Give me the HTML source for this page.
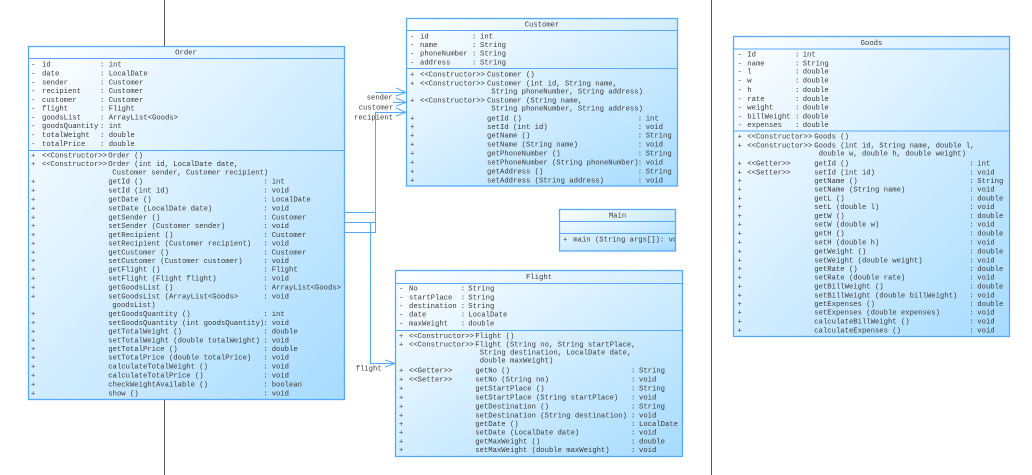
<!DOCTYPE html>
<html><head><meta charset="utf-8"><style>
html,body{margin:0;padding:0;background:#fff;width:1032px;height:475px;overflow:hidden}
svg{display:block}
text{font-family:"Liberation Mono",monospace;font-size:7.22px;fill:#3a3a3a;white-space:pre}
.b{fill:url(#g);stroke:#55aaff;stroke-width:1.3}
.l{stroke:#55aaff;stroke-width:1;fill:none}
.c{text-anchor:middle}
</style></head><body>
<svg width="1032" height="475" viewBox="0 0 1032 475" xmlns="http://www.w3.org/2000/svg">
<defs><linearGradient id="g" x1="0" y1="0" x2="1" y2="1"><stop offset="0" stop-color="#ffffff"/><stop offset="1" stop-color="#a6dbff"/></linearGradient></defs>
<line x1="164.5" y1="0" x2="164.5" y2="46" stroke="#555"/>
<line x1="164.5" y1="399" x2="164.5" y2="475" stroke="#555"/>
<line x1="711.5" y1="0" x2="711.5" y2="475" stroke="#555"/>

<!-- connectors -->
<path class="l" d="M344 212.5H375.5V232.5H344M344 222.5H375.5M375.5 232V112.5H406M375.5 92.5H406M393 102.5H406M370.5 222.5V363.5H395"/>
<path class="l" d="M396 88L406 92.5L396 96M396 98L406 102.5L396 106M396 108L406 112.5L396 116M385 360L395 363.5L385 367"/>
<text x="366.7" y="99.5">sender</text>
<text x="358.7" y="109.5">customer</text>
<text x="354" y="119.5">recipient</text>
<text x="355.7" y="370.5">flight</text>

<!-- Order -->
<rect class="b" x="28.5" y="46.5" width="316" height="353"/>
<path class="l" d="M28.5 58.5H344.5M28.5 150.5H344.5"/>
<text class="c" x="186" y="54.5">Order</text>
<text x="31" y="66.6">-</text><text x="42" y="66.6">id</text><text x="100" y="66.6">:</text><text x="108.7" y="66.6">int</text>
<text x="31" y="75.3">-</text><text x="42" y="75.3">date</text><text x="100" y="75.3">:</text><text x="108.7" y="75.3">LocalDate</text>
<text x="31" y="84.3">-</text><text x="42" y="84.3">sender</text><text x="100" y="84.3">:</text><text x="108.7" y="84.3">Customer</text>
<text x="31" y="92.8">-</text><text x="42" y="92.8">recipient</text><text x="100" y="92.8">:</text><text x="108.7" y="92.8">Customer</text>
<text x="31" y="101.8">-</text><text x="42" y="101.8">customer</text><text x="100" y="101.8">:</text><text x="108.7" y="101.8">Customer</text>
<text x="31" y="110.3">-</text><text x="42" y="110.3">flight</text><text x="100" y="110.3">:</text><text x="108.7" y="110.3">Flight</text>
<text x="31" y="119.3">-</text><text x="42" y="119.3">goodsList</text><text x="100" y="119.3">:</text><text x="108.7" y="119.3">ArrayList&lt;Goods&gt;</text>
<text x="31" y="127.8">-</text><text x="42" y="127.8">goodsQuantity</text><text x="100" y="127.8">:</text><text x="108.7" y="127.8">int</text>
<text x="31" y="136.8">-</text><text x="42" y="136.8">totalWeight</text><text x="100" y="136.8">:</text><text x="108.7" y="136.8">double</text>
<text x="31" y="145.8">-</text><text x="42" y="145.8">totalPrice</text><text x="100" y="145.8">:</text><text x="108.7" y="145.8">double</text>

<text x="31" y="157.6">+</text><text x="42" y="157.6">&lt;&lt;Constructor&gt;&gt;</text><text x="108.3" y="157.6">Order ()</text>
<text x="31" y="166.1">+</text><text x="42" y="166.1">&lt;&lt;Constructor&gt;&gt;</text><text x="108.3" y="166.1">Order (int id, LocalDate date,</text>
<text x="112.3" y="174.3">Customer sender, Customer recipient)</text>
<text x="31" y="183.3">+</text><text x="108.3" y="183.3">getId ()</text><text x="263.3" y="183.3">:</text><text x="271.7" y="183.3">int</text>
<text x="31" y="192.3">+</text><text x="108.3" y="192.3">setId (int id)</text><text x="263.3" y="192.3">:</text><text x="271.7" y="192.3">void</text>
<text x="31" y="201.6">+</text><text x="108.3" y="201.6">getDate ()</text><text x="263.3" y="201.6">:</text><text x="271.7" y="201.6">LocalDate</text>
<text x="31" y="210.3">+</text><text x="108.3" y="210.3">setDate (LocalDate date)</text><text x="263.3" y="210.3">:</text><text x="271.7" y="210.3">void</text>
<text x="31" y="219.3">+</text><text x="108.3" y="219.3">getSender ()</text><text x="263.3" y="219.3">:</text><text x="271.7" y="219.3">Customer</text>
<text x="31" y="228">+</text><text x="108.3" y="228">setSender (Customer sender)</text><text x="263.3" y="228">:</text><text x="271.7" y="228">void</text>
<text x="31" y="237">+</text><text x="108.3" y="237">getRecipient ()</text><text x="263.3" y="237">:</text><text x="271.7" y="237">Customer</text>
<text x="31" y="245.6">+</text><text x="108.3" y="245.6">setRecipient (Customer recipient)</text><text x="263.3" y="245.6">:</text><text x="271.7" y="245.6">void</text>
<text x="31" y="254.3">+</text><text x="108.3" y="254.3">getCustomer ()</text><text x="263.3" y="254.3">:</text><text x="271.7" y="254.3">Customer</text>
<text x="31" y="263">+</text><text x="108.3" y="263">setCustomer (Customer customer)</text><text x="263.3" y="263">:</text><text x="271.7" y="263">void</text>
<text x="31" y="271.6">+</text><text x="108.3" y="271.6">getFlight ()</text><text x="263.3" y="271.6">:</text><text x="271.7" y="271.6">Flight</text>
<text x="31" y="280.3">+</text><text x="108.3" y="280.3">setFlight (Flight flight)</text><text x="263.3" y="280.3">:</text><text x="271.7" y="280.3">void</text>
<text x="31" y="289.3">+</text><text x="108.3" y="289.3">getGoodsList ()</text><text x="263.3" y="289.3">:</text><text x="271.7" y="289.3">ArrayList&lt;Goods&gt;</text>
<text x="31" y="298.3">+</text><text x="108.3" y="298.3">setGoodsList (ArrayList&lt;Goods&gt;</text><text x="263.3" y="298.3">:</text><text x="271.7" y="298.3">void</text>
<text x="112.3" y="307">goodsList)</text>
<text x="31" y="316">+</text><text x="108.3" y="316">getGoodsQuantity ()</text><text x="263.3" y="316">:</text><text x="271.7" y="316">int</text>
<text x="31" y="324.8">+</text><text x="108.3" y="324.8">setGoodsQuantity (int goodsQuantity)</text><text x="263.3" y="324.8">:</text><text x="271.7" y="324.8">void</text>
<text x="31" y="333.6">+</text><text x="108.3" y="333.6">getTotalWeight ()</text><text x="263.3" y="333.6">:</text><text x="271.7" y="333.6">double</text>
<text x="31" y="342.3">+</text><text x="108.3" y="342.3">setTotalWeight (double totalWeight)</text><text x="263.3" y="342.3">:</text><text x="271.7" y="342.3">void</text>
<text x="31" y="351">+</text><text x="108.3" y="351">getTotalPrice ()</text><text x="263.3" y="351">:</text><text x="271.7" y="351">double</text>
<text x="31" y="359.6">+</text><text x="108.3" y="359.6">setTotalPrice (double totalPrice)</text><text x="263.3" y="359.6">:</text><text x="271.7" y="359.6">void</text>
<text x="31" y="368.3">+</text><text x="108.3" y="368.3">calculateTotalWeight ()</text><text x="263.3" y="368.3">:</text><text x="271.7" y="368.3">void</text>
<text x="31" y="377.3">+</text><text x="108.3" y="377.3">calculateTotalPrice ()</text><text x="263.3" y="377.3">:</text><text x="271.7" y="377.3">void</text>
<text x="31" y="386.3">+</text><text x="108.3" y="386.3">checkWeightAvailable ()</text><text x="263.3" y="386.3">:</text><text x="271.7" y="386.3">boolean</text>
<text x="31" y="395.6">+</text><text x="108.3" y="395.6">show ()</text><text x="263.3" y="395.6">:</text><text x="271.7" y="395.6">void</text>

<!-- Customer -->
<rect class="b" x="406.5" y="18.5" width="271" height="167.5"/>
<path class="l" d="M406.5 30.5H677.5M406.5 68.5H677.5"/>
<text class="c" x="542" y="26.5">Customer</text>
<text x="410" y="38.3">-</text><text x="420" y="38.3">id</text><text x="472" y="38.3">:</text><text x="480" y="38.3">int</text>
<text x="410" y="47">-</text><text x="420" y="47">name</text><text x="472" y="47">:</text><text x="480" y="47">String</text>
<text x="410" y="55.6">-</text><text x="420" y="55.6">phoneNumber</text><text x="472" y="55.6">:</text><text x="480" y="55.6">String</text>
<text x="410" y="64.6">-</text><text x="420" y="64.6">address</text><text x="472" y="64.6">:</text><text x="480" y="64.6">String</text>
<text x="410" y="76.6">+</text><text x="420" y="76.6">&lt;&lt;Constructor&gt;&gt;</text><text x="487" y="76.6">Customer ()</text>
<text x="410" y="85.6">+</text><text x="420" y="85.6">&lt;&lt;Constructor&gt;&gt;</text><text x="487" y="85.6">Customer (int id, String name,</text>
<text x="491.3" y="93.6">String phoneNumber, String address)</text>
<text x="410" y="102.6">+</text><text x="420" y="102.6">&lt;&lt;Constructor&gt;&gt;</text><text x="487" y="102.6">Customer (String name,</text>
<text x="491.3" y="110.6">String phoneNumber, String address)</text>
<text x="410" y="120.3">+</text><text x="487" y="120.3">getId ()</text><text x="637.7" y="120.3">:</text><text x="645.7" y="120.3">int</text>
<text x="410" y="129">+</text><text x="487" y="129">setId (int id)</text><text x="637.7" y="129">:</text><text x="645.7" y="129">void</text>
<text x="410" y="137.6">+</text><text x="487" y="137.6">getName ()</text><text x="637.7" y="137.6">:</text><text x="645.7" y="137.6">String</text>
<text x="410" y="146.6">+</text><text x="487" y="146.6">setName (String name)</text><text x="637.7" y="146.6">:</text><text x="645.7" y="146.6">void</text>
<text x="410" y="155.6">+</text><text x="487" y="155.6">getPhoneNumber ()</text><text x="637.7" y="155.6">:</text><text x="645.7" y="155.6">String</text>
<text x="410" y="164.6">+</text><text x="487" y="164.6">setPhoneNumber (String phoneNumber)</text><text x="637.7" y="164.6">:</text><text x="645.7" y="164.6">void</text>
<text x="410" y="173.6">+</text><text x="487" y="173.6">getAddress ()</text><text x="637.7" y="173.6">:</text><text x="645.7" y="173.6">String</text>
<text x="410" y="182.3">+</text><text x="487" y="182.3">setAddress (String address)</text><text x="637.7" y="182.3">:</text><text x="645.7" y="182.3">void</text>

<!-- Main -->
<rect class="b" x="559.5" y="209.5" width="116" height="41.5"/>
<path class="l" d="M559.5 221.5H675.5M559.5 233.5H675.5"/>
<text class="c" x="617.5" y="217.5">Main</text>
<text x="563" y="241.3">+</text>
<svg x="573" y="230" width="102" height="20"><text x="0.3" y="11.3">main (String args[]): void</text></svg>

<!-- Flight -->
<rect class="b" x="395.5" y="270.5" width="287" height="186"/>
<path class="l" d="M395.5 283.5H682.5M395.5 330.5H682.5"/>
<text class="c" x="539" y="278.8">Flight</text>
<text x="399" y="290.6">-</text><text x="409" y="290.6">No</text><text x="460.7" y="290.6">:</text><text x="468.3" y="290.6">String</text>
<text x="399" y="299.3">-</text><text x="409" y="299.3">startPlace</text><text x="460.7" y="299.3">:</text><text x="468.3" y="299.3">String</text>
<text x="399" y="308">-</text><text x="409" y="308">destination</text><text x="460.7" y="308">:</text><text x="468.3" y="308">String</text>
<text x="399" y="316.6">-</text><text x="409" y="316.6">date</text><text x="460.7" y="316.6">:</text><text x="468.3" y="316.6">LocalDate</text>
<text x="399" y="325.3">-</text><text x="409" y="325.3">maxWeight</text><text x="460.7" y="325.3">:</text><text x="468.3" y="325.3">double</text>
<text x="399" y="338">+</text><text x="409" y="338">&lt;&lt;Constructor&gt;&gt;</text><text x="475.3" y="338">Flight ()</text>
<text x="399" y="346.6">+</text><text x="409" y="346.6">&lt;&lt;Constructor&gt;&gt;</text><text x="475.3" y="346.6">Flight (String no, String startPlace,</text>
<text x="479.7" y="354.6">String destination, LocalDate date,</text>
<text x="479.7" y="362.6">double maxWeight)</text>
<text x="399" y="372.6">+</text><text x="409" y="372.6">&lt;&lt;Getter&gt;&gt;</text><text x="475.3" y="372.6">getNo ()</text><text x="631" y="372.6">:</text><text x="639" y="372.6">String</text>
<text x="399" y="381.6">+</text><text x="409" y="381.6">&lt;&lt;Setter&gt;&gt;</text><text x="475.3" y="381.6">setNo (String no)</text><text x="631" y="381.6">:</text><text x="639" y="381.6">void</text>
<text x="399" y="390.3">+</text><text x="475.3" y="390.3">getStartPlace ()</text><text x="631" y="390.3">:</text><text x="639" y="390.3">String</text>
<text x="399" y="399.3">+</text><text x="475.3" y="399.3">setStartPlace (String startPlace)</text><text x="631" y="399.3">:</text><text x="639" y="399.3">void</text>
<text x="399" y="408.3">+</text><text x="475.3" y="408.3">getDestination ()</text><text x="631" y="408.3">:</text><text x="639" y="408.3">String</text>
<text x="399" y="417.3">+</text><text x="475.3" y="417.3">setDestination (String destination)</text><text x="631" y="417.3">:</text><text x="639" y="417.3">void</text>
<text x="399" y="426">+</text><text x="475.3" y="426">getDate ()</text><text x="631" y="426">:</text><text x="639" y="426">LocalDate</text>
<text x="399" y="434.6">+</text><text x="475.3" y="434.6">setDate (LocalDate date)</text><text x="631" y="434.6">:</text><text x="639" y="434.6">void</text>
<text x="399" y="443.3">+</text><text x="475.3" y="443.3">getMaxWeight ()</text><text x="631" y="443.3">:</text><text x="639" y="443.3">double</text>
<text x="399" y="452">+</text><text x="475.3" y="452">setMaxWeight (double maxWeight)</text><text x="631" y="452">:</text><text x="639" y="452">void</text>

<!-- Goods -->
<rect class="b" x="733.5" y="36.5" width="276" height="300"/>
<path class="l" d="M733.5 49H1009.5M733.5 131H1009.5"/>
<text class="c" x="871.5" y="44.8">Goods</text>
<text x="737.5" y="56.3">-</text><text x="747.3" y="56.3">Id</text><text x="795" y="56.3">:</text><text x="802.7" y="56.3">int</text>
<text x="737.5" y="65.3">-</text><text x="747.3" y="65.3">name</text><text x="795" y="65.3">:</text><text x="802.7" y="65.3">String</text>
<text x="737.5" y="73.6">-</text><text x="747.3" y="73.6">l</text><text x="795" y="73.6">:</text><text x="802.7" y="73.6">double</text>
<text x="737.5" y="82.6">-</text><text x="747.3" y="82.6">w</text><text x="795" y="82.6">:</text><text x="802.7" y="82.6">double</text>
<text x="737.5" y="92">-</text><text x="747.3" y="92">h</text><text x="795" y="92">:</text><text x="802.7" y="92">double</text>
<text x="737.5" y="101">-</text><text x="747.3" y="101">rate</text><text x="795" y="101">:</text><text x="802.7" y="101">double</text>
<text x="737.5" y="109.6">-</text><text x="747.3" y="109.6">weight</text><text x="795" y="109.6">:</text><text x="802.7" y="109.6">double</text>
<text x="737.5" y="118.3">-</text><text x="747.3" y="118.3">billWeight</text><text x="795" y="118.3">:</text><text x="802.7" y="118.3">double</text>
<text x="737.5" y="127">-</text><text x="747.3" y="127">expenses</text><text x="795" y="127">:</text><text x="802.7" y="127">double</text>
<text x="737.5" y="138.6">+</text><text x="747.3" y="138.6">&lt;&lt;Constructor&gt;&gt;</text><text x="814.3" y="138.6">Goods ()</text>
<text x="737.5" y="147.3">+</text><text x="747.3" y="147.3">&lt;&lt;Constructor&gt;&gt;</text><text x="814.3" y="147.3">Goods (int id, String name, double l,</text>
<text x="818.7" y="155.3">double w, double h, double weight)</text>
<text x="737.5" y="165.6">+</text><text x="747.3" y="165.6">&lt;&lt;Getter&gt;&gt;</text><text x="814.3" y="165.6">getId ()</text><text x="969.3" y="165.6">:</text><text x="977.3" y="165.6">int</text>
<text x="737.5" y="174.3">+</text><text x="747.3" y="174.3">&lt;&lt;Setter&gt;&gt;</text><text x="814.3" y="174.3">setId (int id)</text><text x="969.3" y="174.3">:</text><text x="977.3" y="174.3">void</text>
<text x="737.5" y="183">+</text><text x="814.3" y="183">getName ()</text><text x="969.3" y="183">:</text><text x="977.3" y="183">String</text>
<text x="737.5" y="191.6">+</text><text x="814.3" y="191.6">setName (String name)</text><text x="969.3" y="191.6">:</text><text x="977.3" y="191.6">void</text>
<text x="737.5" y="200.6">+</text><text x="814.3" y="200.6">getL ()</text><text x="969.3" y="200.6">:</text><text x="977.3" y="200.6">double</text>
<text x="737.5" y="209">+</text><text x="814.3" y="209">setL (double l)</text><text x="969.3" y="209">:</text><text x="977.3" y="209">void</text>
<text x="737.5" y="218">+</text><text x="814.3" y="218">getW ()</text><text x="969.3" y="218">:</text><text x="977.3" y="218">double</text>
<text x="737.5" y="226.6">+</text><text x="814.3" y="226.6">setW (double w)</text><text x="969.3" y="226.6">:</text><text x="977.3" y="226.6">void</text>
<text x="737.5" y="235.3">+</text><text x="814.3" y="235.3">getH ()</text><text x="969.3" y="235.3">:</text><text x="977.3" y="235.3">double</text>
<text x="737.5" y="244.6">+</text><text x="814.3" y="244.6">setH (double h)</text><text x="969.3" y="244.6">:</text><text x="977.3" y="244.6">void</text>
<text x="737.5" y="253.6">+</text><text x="814.3" y="253.6">getWeight ()</text><text x="969.3" y="253.6">:</text><text x="977.3" y="253.6">double</text>
<text x="737.5" y="262.3">+</text><text x="814.3" y="262.3">setWeight (double weight)</text><text x="969.3" y="262.3">:</text><text x="977.3" y="262.3">void</text>
<text x="737.5" y="271">+</text><text x="814.3" y="271">getRate ()</text><text x="969.3" y="271">:</text><text x="977.3" y="271">double</text>
<text x="737.5" y="279.6">+</text><text x="814.3" y="279.6">setRate (double rate)</text><text x="969.3" y="279.6">:</text><text x="977.3" y="279.6">void</text>
<text x="737.5" y="288.6">+</text><text x="814.3" y="288.6">getBillWeight ()</text><text x="969.3" y="288.6">:</text><text x="977.3" y="288.6">double</text>
<text x="737.5" y="297.3">+</text><text x="814.3" y="297.3">setBillWeight (double billWeight)</text><text x="969.3" y="297.3">:</text><text x="977.3" y="297.3">void</text>
<text x="737.5" y="306">+</text><text x="814.3" y="306">getExpenses ()</text><text x="969.3" y="306">:</text><text x="977.3" y="306">double</text>
<text x="737.5" y="314.6">+</text><text x="814.3" y="314.6">setExpenses (double expenses)</text><text x="969.3" y="314.6">:</text><text x="977.3" y="314.6">void</text>
<text x="737.5" y="323.3">+</text><text x="814.3" y="323.3">calculateBillWeight ()</text><text x="969.3" y="323.3">:</text><text x="977.3" y="323.3">void</text>
<text x="737.5" y="332.6">+</text><text x="814.3" y="332.6">calculateExpenses ()</text><text x="969.3" y="332.6">:</text><text x="977.3" y="332.6">void</text>
</svg>
</body></html>
